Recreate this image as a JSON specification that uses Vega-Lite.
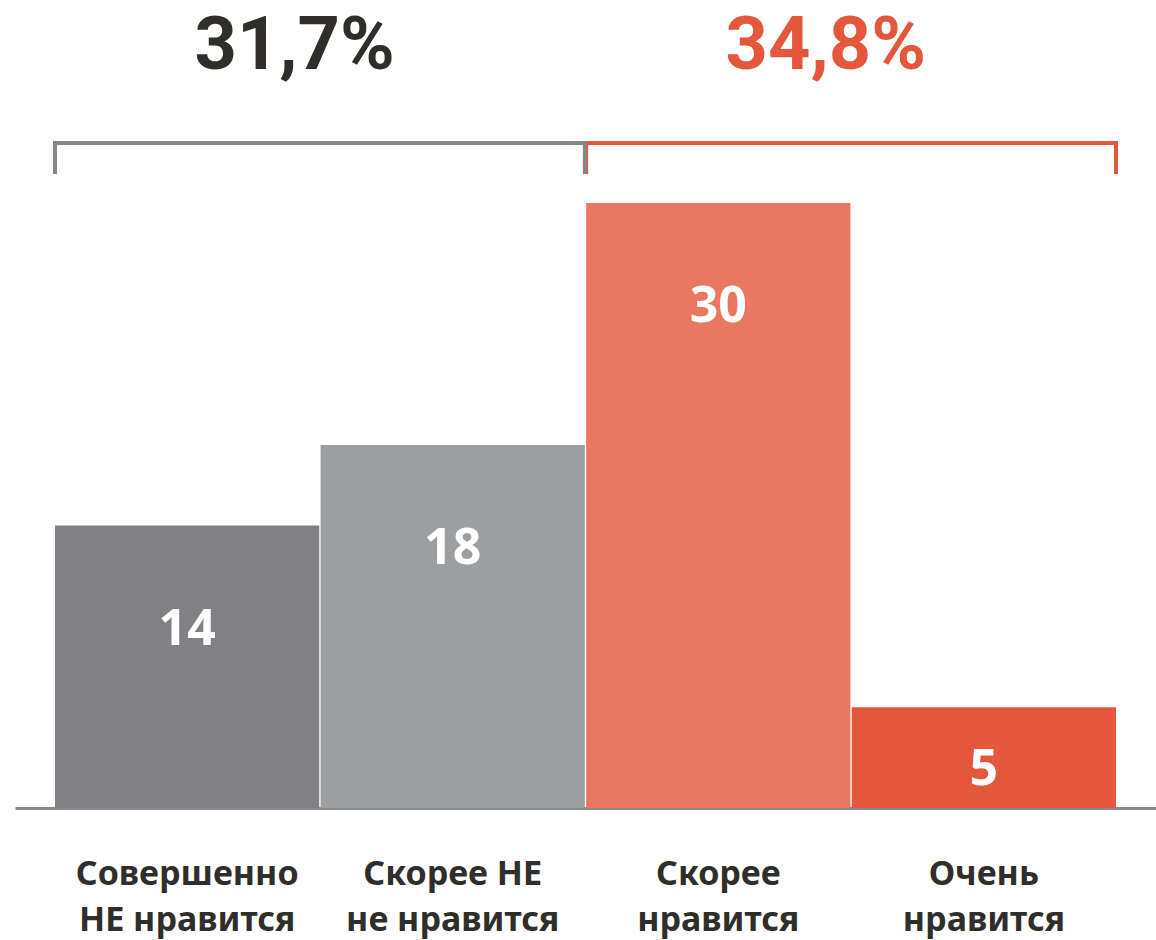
{
  "$schema": "https://vega.github.io/schema/vega-lite/v6.json",
  "width": 1156,
  "height": 808,
  "autosize": {"type": "none"},
  "padding": {"left": 0, "top": 0, "right": 0, "bottom": 132},
  "background": "white",
  "config": {
    "view": {"stroke": null},
    "font": "Noto Sans",
    "axisY": {"disable": true},
    "axisX": {"labels": false, "ticks": false, "grid": false, "title": null, "domainColor": "#8a8a8c", "domainWidth": 3}
  },
  "datasets": {
    "bars": [
      {"cat": "Совершенно\nНЕ нравится", "value": 14},
      {"cat": "Скорее НЕ\nне нравится", "value": 18},
      {"cat": "Скорее\nнравится", "value": 30},
      {"cat": "Очень\nнравится", "value": 5}
    ],
    "groups": [
      {"grp": "neg", "first": "Совершенно\nНЕ нравится", "last": "Скорее НЕ\nне нравится", "pct": "31,7%"},
      {"grp": "pos", "first": "Скорее\nнравится", "last": "Очень\nнравится", "pct": "34,8%"}
    ]
  },
  "layer": [
    {
      "data": {"name": "bars"},
      "mark": {"type": "bar"},
      "encoding": {
        "x": {
          "field": "cat", "type": "nominal", "sort": null, "title": null,
          "scale": {
            "domain": ["Совершенно\nНЕ нравится", "Скорее НЕ\nне нравится", "Скорее\nнравится", "Очень\nнравится"],
            "range": [15, 1156], "paddingInner": 0.005, "paddingOuter": 0.1507
          }
        },
        "y": {"field": "value", "type": "quantitative", "axis": null, "scale": {"domain": [0, 40.06], "nice": false}},
        "color": {
          "field": "cat", "type": "nominal", "legend": null,
          "scale": {
            "domain": ["Совершенно\nНЕ нравится", "Скорее НЕ\nне нравится", "Скорее\nнравится", "Очень\nнравится"],
            "range": ["#808085", "#9d9ea0", "#ea7761", "#e5573a"]
          }
        }
      }
    },
    {
      "data": {"name": "bars"},
      "transform": [{"filter": "datum.value >= 10"}],
      "mark": {"type": "text", "fontSize": 50, "fontWeight": "bold", "fill": "white", "baseline": "middle", "align": "center", "dy": 104},
      "encoding": {
        "x": {"field": "cat", "type": "nominal", "sort": null, "title": null},
        "y": {"field": "value", "type": "quantitative", "axis": null},
        "text": {"field": "value", "type": "quantitative"}
      }
    },
    {
      "data": {"name": "bars"},
      "transform": [{"filter": "datum.value < 10"}],
      "mark": {"type": "text", "fontSize": 50, "fontWeight": "bold", "fill": "white", "baseline": "middle", "align": "center", "dy": 63},
      "encoding": {
        "x": {"field": "cat", "type": "nominal", "sort": null, "title": null},
        "y": {"field": "value", "type": "quantitative", "axis": null},
        "text": {"field": "value", "type": "quantitative"}
      }
    },
    {
      "data": {"name": "bars"},
      "mark": {"type": "text", "fontSize": 34, "fontWeight": "bold", "fill": "#2f2e2a", "baseline": "middle", "align": "center", "lineBreak": "\n", "lineHeight": 46},
      "encoding": {
        "x": {"field": "cat", "type": "nominal", "sort": null, "title": null},
        "y": {"datum": -3.32},
        "text": {"field": "cat", "type": "nominal"}
      }
    },
    {
      "data": {"name": "groups"},
      "mark": {"type": "rule", "strokeWidth": 4, "strokeCap": "square"},
      "encoding": {
        "x": {"field": "first", "type": "nominal", "bandPosition": 0, "title": null},
        "x2": {"field": "last", "bandPosition": 1},
        "y": {"datum": 32.97},
        "stroke": {"condition": {"test": "datum.grp === 'neg'", "value": "#86878b"}, "value": "#e5573a"}
      }
    },
    {
      "data": {"name": "groups"},
      "mark": {"type": "rule", "strokeWidth": 4, "strokeCap": "square"},
      "encoding": {
        "x": {"field": "first", "type": "nominal", "bandPosition": 0, "title": null},
        "y": {"datum": 32.97},
        "y2": {"datum": 31.53},
        "stroke": {"condition": {"test": "datum.grp === 'neg'", "value": "#86878b"}, "value": "#e5573a"}
      }
    },
    {
      "data": {"name": "groups"},
      "mark": {"type": "rule", "strokeWidth": 4, "strokeCap": "square"},
      "encoding": {
        "x": {"field": "last", "type": "nominal", "bandPosition": 1, "title": null},
        "y": {"datum": 32.97},
        "y2": {"datum": 31.53},
        "stroke": {"condition": {"test": "datum.grp === 'neg'", "value": "#86878b"}, "value": "#e5573a"}
      }
    },
    {
      "data": {"name": "groups"},
      "mark": {"type": "text", "font": "Roboto", "fontSize": 74, "fontWeight": "bold", "baseline": "middle", "align": "center", "dx": -26},
      "encoding": {
        "x": {"field": "last", "type": "nominal", "bandPosition": 0, "title": null},
        "y": {"datum": 37.73},
        "text": {"field": "pct", "type": "nominal"},
        "fill": {"condition": {"test": "datum.grp === 'neg'", "value": "#2f2e2a"}, "value": "#e5573a"}
      }
    }
  ]
}
